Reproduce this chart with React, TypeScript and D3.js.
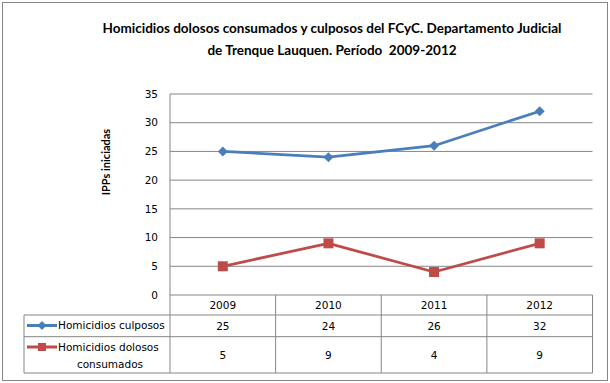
import React from "react";
import * as d3 from "d3";

const years = ["2009", "2010", "2011", "2012"];
const culposos = [25, 24, 26, 32];
const dolosos = [5, 9, 4, 9];
const yTicks = [0, 5, 10, 15, 20, 25, 30, 35];
const titleLines = [
  "Homicidios dolosos consumados y culposos del FCyC. Departamento Judicial",
  "de Trenque Lauquen. Período  2009-2012",
];
const seriesNames = ["Homicidios culposos", "Homicidios dolosos consumados"];

const W = 610, H = 383;
const BLUE = "#4A7EBB";
const RED = "#BE4B48";
const GRID = "#868686";
const TF = "'DejaVu Sans', Tahoma, sans-serif";
const HF = "Lato, 'Open Sans', sans-serif";

export default function App() {
  const left = 170, right = 592.5, top = 94, bottom = 295;
  const x = d3.scaleBand<string>().domain(years).range([left, right]);
  const y = d3.scaleLinear().domain([0, 35]).range([bottom, top]);
  const cx = (d: string) => (x(d) as number) + x.bandwidth() / 2;
  const line = d3
    .line<number>()
    .x((_, i) => cx(years[i]))
    .y((v) => y(v));

  const row1Top = 315, row2Top = 336.7, tableBottom = 373, tableLeft = 24;
  const diamond = (px: number, py: number, r: number) =>
    `M${px},${py - r}L${px + r},${py}L${px},${py + r}L${px - r},${py}Z`;

  return (
    <svg width={W} height={H} style={{ position: "absolute", left: 0, top: 0 }}>
      <rect x={0} y={0} width={W} height={H} fill="#fff" />
      <rect x={2.5} y={2.5} width={605} height={378} fill="none" stroke={GRID} strokeWidth={1} />
      {titleLines.map((t, i) => (
        <text
          key={i}
          x={332}
          y={33 + i * 22}
          textAnchor="middle"
          fontFamily={HF}
          fontWeight="bold"
          fontSize={13.5}
          fill="#000"
          style={{ whiteSpace: "pre" }}
        >
          {t}
        </text>
      ))}
      <text
        transform={`translate(110,162) rotate(-90)`}
        textAnchor="middle"
        fontFamily={HF}
        fontWeight="bold"
        fontSize={11}
      >
        IPPs iniciadas
      </text>
      {yTicks.map((t) => (
        <g key={t}>
          <line x1={left} x2={right} y1={y(t)} y2={y(t)} stroke={GRID} strokeWidth={1} />
          <text
            x={158}
            y={y(t)}
            dy="0.35em"
            textAnchor="end"
            fontFamily={TF}
            fontSize={10.5}
          >
            {t}
          </text>
        </g>
      ))}
      {/* table */}
      <line x1={left} x2={left} y1={top} y2={tableBottom} stroke={GRID} />
      {[row1Top, row2Top, tableBottom].map((yy, i) => (
        <line key={i} x1={tableLeft} x2={right} y1={yy} y2={yy} stroke={GRID} />
      ))}
      <line x1={tableLeft} x2={tableLeft} y1={row1Top} y2={tableBottom} stroke={GRID} />
      {years.map((yr) => (
        <line
          key={yr}
          x1={(x(yr) as number) + x.bandwidth()}
          x2={(x(yr) as number) + x.bandwidth()}
          y1={bottom}
          y2={tableBottom}
          stroke={GRID}
        />
      ))}
      {years.map((yr, i) => (
        <g key={yr} fontFamily={TF} fontSize={10.5} textAnchor="middle">
          <text x={cx(yr)} y={(bottom + row1Top) / 2} dy="0.35em">{yr}</text>
          <text x={cx(yr)} y={(row1Top + row2Top) / 2} dy="0.35em">{culposos[i]}</text>
          <text x={cx(yr)} y={(row2Top + tableBottom) / 2} dy="0.35em">{dolosos[i]}</text>
        </g>
      ))}
      {/* legend keys */}
      <line x1={27} x2={57} y1={325.5} y2={325.5} stroke={BLUE} strokeWidth={3} />
      <path d={diamond(42, 325.5, 4.5)} fill={BLUE} />
      <text x={58} y={325.5} dy="0.35em" fontFamily={TF} fontSize={10.5}>{seriesNames[0]}</text>
      <line x1={27} x2={57} y1={347} y2={347} stroke={RED} strokeWidth={3} />
      <rect x={38} y={343} width={8} height={8} fill={RED} />
      <text x={58} y={347} dy="0.35em" fontFamily={TF} fontSize={10.5}>Homicidios dolosos</text>
      <text x={110} y={364} dy="0.35em" textAnchor="middle" fontFamily={TF} fontSize={10.5}>consumados</text>
      {/* series */}
      <path d={line(culposos) as string} fill="none" stroke={BLUE} strokeWidth={2.75} strokeLinejoin="round" />
      {culposos.map((v, i) => (
        <path key={i} d={diamond(cx(years[i]), y(v), 5)} fill={BLUE} />
      ))}
      <path d={line(dolosos) as string} fill="none" stroke={RED} strokeWidth={2.75} strokeLinejoin="round" />
      {dolosos.map((v, i) => (
        <rect key={i} x={cx(years[i]) - 5} y={y(v) - 5} width={10} height={10} fill={RED} />
      ))}
    </svg>
  );
}
